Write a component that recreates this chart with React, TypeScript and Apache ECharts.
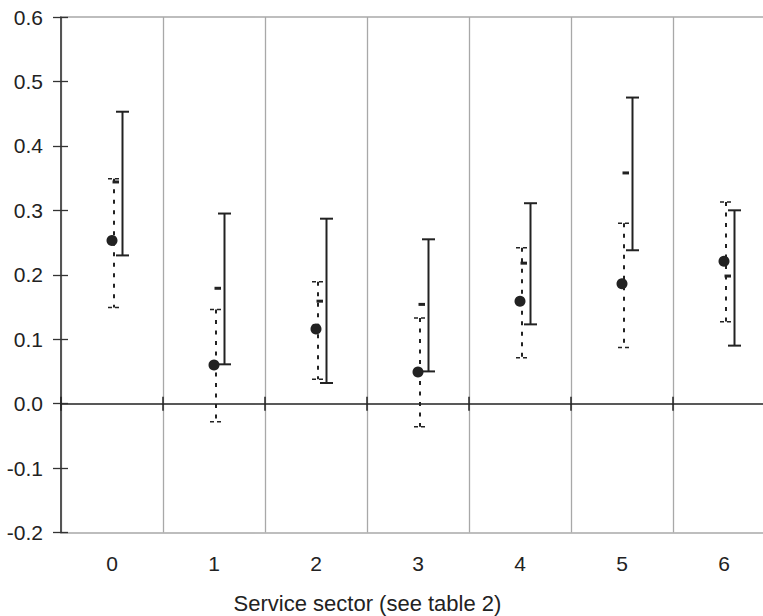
import React, { useEffect, useRef } from "react";
import * as echarts from "echarts";

const categories = ["0", "1", "2", "3", "4", "5", "6"];
const dotValues = [0.253, 0.06, 0.116, 0.049, 0.159, 0.186, 0.221];
const dottedLow = [0.149, -0.028, 0.038, -0.036, 0.071, 0.087, 0.127];
const dottedHigh = [0.349, 0.146, 0.189, 0.133, 0.242, 0.28, 0.313];
const dashValues = [0.344, 0.179, 0.159, 0.154, 0.218, 0.358, 0.198];
const solidLow = [0.23, 0.061, 0.032, 0.05, 0.123, 0.238, 0.09];
const solidHigh = [0.453, 0.295, 0.287, 0.255, 0.311, 0.475, 0.3];
const yTicks = [-0.2, -0.1, 0.0, 0.1, 0.2, 0.3, 0.4, 0.5, 0.6];
const xTitle = "Service sector (see table 2)";

const FONT = "'Liberation Sans', Arial, Helvetica, sans-serif";
const INK = "#222";

export default function App() {
  const ref = useRef<HTMLDivElement>(null);
  useEffect(() => {
    if (!ref.current) return;
    const chart = echarts.init(ref.current, null, { renderer: "svg" });
    const data = categories.map((_, i) => [
      i,
      dotValues[i],
      dottedLow[i],
      dottedHigh[i],
      dashValues[i],
      solidLow[i],
      solidHigh[i],
    ]);
    const renderItem = (params: any, api: any) => {
      const i = api.value(0);
      const [cx, yDot] = api.coord([i, api.value(1)]);
      const yDL = api.coord([i, api.value(2)])[1];
      const yDH = api.coord([i, api.value(3)])[1];
      const yDash = api.coord([i, api.value(4)])[1];
      const ySL = api.coord([i, api.value(5)])[1];
      const ySH = api.coord([i, api.value(6)])[1];
      const dx = cx + 2;
      const sx = cx + 10.5;
      return {
        type: "group",
        children: [
          {
            type: "line",
            shape: { x1: dx, y1: yDH, x2: dx, y2: yDL },
            style: { stroke: INK, lineWidth: 2, lineDash: [4, 6.5] },
          },
          {
            type: "line",
            shape: { x1: cx - 4, y1: yDH, x2: cx + 8, y2: yDH },
            style: { stroke: INK, lineWidth: 1.5, lineDash: [4, 3] },
          },
          {
            type: "line",
            shape: { x1: cx - 4, y1: yDL, x2: cx + 8, y2: yDL },
            style: { stroke: INK, lineWidth: 1.5, lineDash: [4, 3] },
          },
          {
            type: "line",
            shape: { x1: sx, y1: ySH, x2: sx, y2: ySL },
            style: { stroke: INK, lineWidth: 2 },
          },
          {
            type: "line",
            shape: { x1: sx - 6.5, y1: ySH, x2: sx + 6.5, y2: ySH },
            style: { stroke: INK, lineWidth: 2 },
          },
          {
            type: "line",
            shape: { x1: sx - 6.5, y1: ySL, x2: sx + 6.5, y2: ySL },
            style: { stroke: INK, lineWidth: 2 },
          },
          {
            type: "rect",
            shape: { x: cx + 0.5, y: yDash - 1.5, width: 6.5, height: 3 },
            style: { fill: INK },
          },
          {
            type: "circle",
            shape: { cx, cy: yDot, r: 5.5 },
            style: { fill: INK },
          },
        ],
      };
    };
    const yMin = yTicks[0];
    const yMax = yTicks[yTicks.length - 1];
    chart.setOption({
      animation: false,
      grid: { left: 61, top: 17, width: 714, height: 515.5, containLabel: false },
      xAxis: [
        {
          type: "category",
          data: categories,
          position: "bottom",
          boundaryGap: true,
          axisLine: { show: true, onZero: false, lineStyle: { color: "#a8a8a8", width: 1.5 } },
          axisTick: { show: false, interval: 0 },
          axisLabel: { margin: 20, fontSize: 21, color: INK, fontFamily: FONT, interval: 0 },
          splitLine: { show: true, interval: 0, lineStyle: { color: "#a8a8a8", width: 1.3 } },
        },
        {
          type: "category",
          data: categories,
          position: "top",
          axisLine: { show: true, onZero: false, lineStyle: { color: "#a8a8a8", width: 1.5 } },
          axisTick: { show: false },
          axisLabel: { show: false },
          splitLine: { show: false },
        },
        {
          type: "category",
          data: categories,
          position: "bottom",
          axisLine: { show: true, onZero: true, lineStyle: { color: INK, width: 1.5 } },
          axisTick: { show: true, interval: 0, length: 7, lineStyle: { color: INK, width: 1.5 } },
          axisLabel: { show: false },
          splitLine: { show: false },
        },
        {
          type: "category",
          data: categories,
          position: "bottom",
          axisLine: { show: false, onZero: true },
          axisTick: { show: true, inside: true, interval: 0, length: 7, lineStyle: { color: INK, width: 1.5 } },
          axisLabel: { show: false },
          splitLine: { show: false },
        },
      ],
      yAxis: [
        {
          type: "value",
          min: yMin,
          max: yMax,
          interval: 0.1,
          position: "left",
          axisLine: { show: true, onZero: false, lineStyle: { color: "#555", width: 2 } },
          axisTick: { show: true, length: 8, lineStyle: { color: "#333", width: 1.3 } },
          axisLabel: {
            margin: 18,
            fontSize: 21,
            color: INK,
            fontFamily: FONT,
            formatter: (v: number) => (Math.abs(v) < 1e-9 ? "0.0" : v.toFixed(1)),
          },
          splitLine: { show: false },
        },
        {
          type: "value",
          min: yMin,
          max: yMax,
          interval: 0.1,
          position: "left",
          axisLine: { show: false, onZero: false },
          axisTick: { show: true, inside: true, length: 7, lineStyle: { color: "#333", width: 1.3 } },
          axisLabel: { show: false },
          splitLine: { show: false },
        },
      ],
      graphic: [
        {
          type: "text",
          x: 367.5,
          y: 603,
          style: {
            text: xTitle,
            fontSize: 22,
            fontFamily: FONT,
            fill: INK,
            align: "center",
            verticalAlign: "middle",
            textAlign: "center",
            textVerticalAlign: "middle",
          },
        },
      ],
      series: [
        {
          type: "custom",
          xAxisIndex: 0,
          yAxisIndex: 0,
          data,
          encode: { x: 0, y: [1, 2, 3, 4, 5, 6] },
          renderItem,
        },
      ],
    });
    return () => chart.dispose();
  }, []);
  return (
    <div
      style={{
        position: "absolute",
        left: 0,
        top: 0,
        width: 763,
        height: 616,
        overflow: "hidden",
        background: "#fff",
      }}
    >
      <div ref={ref} style={{ position: "absolute", left: 0, top: 0, width: 800, height: 616 }} />
    </div>
  );
}
